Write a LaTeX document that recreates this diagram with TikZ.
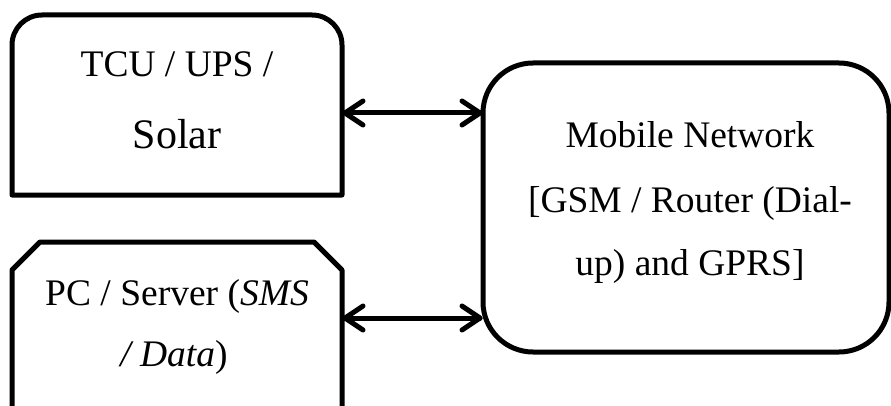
\documentclass[tikz,border=0pt]{standalone}
\usepackage{fontspec}
\setmainfont{Liberation Serif}
\usetikzlibrary{calc}
\begin{document}
\begin{tikzpicture}[x=1pt,y=1pt,
  boxline/.style={line width=5pt, line join=round},
  arrline/.style={line width=5pt, line cap=round, line join=round},
  area/.style={draw=none, inner sep=0pt, outer sep=0pt, minimum width=#1},
  txt/.style={anchor=base, inner sep=0pt, font=\fontsize{37.5}{45}\selectfont}
]
\useasboundingbox (0,0) rectangle (891,405);
\clip (0,0) rectangle (891,405);
% areas
\node[area=330pt, minimum height=180pt] (tcu) at (177,300) {};
\node[area=330pt, minimum height=220pt] (pc) at (177,53) {};
\node[area=406pt, minimum height=289pt] (mob) at (686,197.5) {};
% TCU box: rounded top corners
\draw[boxline] (tcu.south west) -- ([yshift=-30pt]tcu.north west)
  arc[start angle=180, end angle=90, radius=30pt] -- ([xshift=-30pt]tcu.north east)
  arc[start angle=90, end angle=0, radius=30pt] -- (tcu.south east) -- cycle;
% PC box: snipped top corners
\draw[boxline] (pc.south west) -- ([yshift=-28pt]pc.north west) -- ([xshift=28pt]pc.north west)
  -- ([xshift=-28pt]pc.north east) -- ([yshift=-28pt]pc.north east) -- (pc.south east);
% Mobile box: rounded
\draw[boxline, rounded corners=50pt] (mob.south west) rectangle (mob.north east);
% texts
\node[txt] (t1) at (177,328) {TCU / UPS /};
\node[txt, font=\fontsize{42}{50}\selectfont] (t2) at (177,257) {Solar};
\node[txt] (p1) at (177,100) {PC / Server (\textit{SMS}};
\node[txt] (p2) at (174,39) {\textit{/ Data})};
\node[txt] (m1) at (690,258) {Mobile Network};
\node[txt] (m2) at (690,193) {[GSM / Router (Dial-};
\node[txt] (m3) at (690,130) {up) and GPRS]};
% arrows
\coordinate (a1) at (0,292);
\coordinate (a2) at (0,87);
\coordinate (l1) at ($(tcu.east |- a1)+(3,0)$);
\coordinate (r1) at ($(mob.west |- a1)+(-3,0)$);
\coordinate (l2) at ($(pc.east |- a2)+(3,0)$);
\coordinate (r2) at ($(mob.west |- a2)+(-3,0)$);
\draw[arrline] (l1) -- (r1);
\draw[arrline] ($(l1)+(18,12)$) -- (l1) -- ($(l1)+(18,-12)$);
\draw[arrline] ($(r1)+(-18,12)$) -- (r1) -- ($(r1)+(-18,-12)$);
\draw[arrline] (l2) -- (r2);
\draw[arrline] ($(l2)+(18,12)$) -- (l2) -- ($(l2)+(18,-12)$);
\draw[arrline] ($(r2)+(-18,12)$) -- (r2) -- ($(r2)+(-18,-12)$);
\end{tikzpicture}
\end{document}
